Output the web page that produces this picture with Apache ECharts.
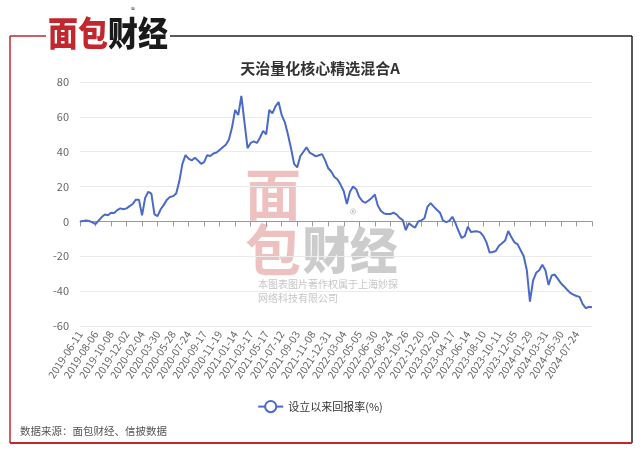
<!DOCTYPE html>
<html>
<head>
<meta charset="utf-8">
<script src="https://cdn.jsdelivr.net/npm/echarts@6/dist/echarts.min.js"></script>
<style>
html,body{margin:0;padding:0;background:#fff;}
#chart{width:640px;height:453px;}
</style>
</head>
<body>
<div id="chart"></div>
<script>
var chartTitle = '天治量化核心精选混合A';
var seriesName = '设立以来回报率(%)';
var sourceText = '数据来源：面包财经、信披数据';

var dates = [
'2019-06-11','2019-06-21','2019-07-02','2019-07-15','2019-07-25',
'2019-08-06','2019-08-16','2019-08-28','2019-09-09','2019-09-23',
'2019-10-08','2019-10-18','2019-10-29','2019-11-08','2019-11-20',
'2019-12-02','2019-12-12','2019-12-24','2020-01-06','2020-01-16',
'2020-02-04','2020-02-14','2020-02-26','2020-03-09','2020-03-19',
'2020-03-30','2020-04-10','2020-04-22','2020-05-07','2020-05-18',
'2020-05-28','2020-06-08','2020-06-18','2020-07-02','2020-07-14',
'2020-07-24','2020-08-04','2020-08-14','2020-08-26','2020-09-07',
'2020-09-17','2020-09-29','2020-10-19','2020-10-29','2020-11-09',
'2020-11-19','2020-12-01','2020-12-11','2020-12-23','2021-01-05',
'2021-01-14','2021-01-26','2021-02-05','2021-02-24','2021-03-05',
'2021-03-17','2021-03-29','2021-04-09','2021-04-21','2021-05-06',
'2021-05-17','2021-05-27','2021-06-07','2021-06-18','2021-06-30',
'2021-07-12','2021-07-22','2021-08-02','2021-08-12','2021-08-24',
'2021-09-03','2021-09-15','2021-09-27','2021-10-19','2021-10-28',
'2021-11-08','2021-11-18','2021-11-30','2021-12-10','2021-12-21',
'2021-12-31','2022-01-12','2022-01-24','2022-02-11','2022-02-22',
'2022-03-04','2022-03-16','2022-03-28','2022-04-08','2022-04-22',
'2022-05-05','2022-05-17','2022-05-27','2022-06-09','2022-06-20',
'2022-06-30','2022-07-12','2022-07-22','2022-08-03','2022-08-12',
'2022-08-24','2022-09-05','2022-09-16','2022-09-28','2022-10-14',
'2022-10-26','2022-11-07','2022-11-17','2022-11-29','2022-12-09',
'2022-12-20','2023-01-03','2023-01-13','2023-02-01','2023-02-10',
'2023-02-20','2023-03-02','2023-03-14','2023-03-24','2023-04-04',
'2023-04-17','2023-04-27','2023-05-11','2023-05-23','2023-06-02',
'2023-06-14','2023-06-27','2023-07-07','2023-07-19','2023-07-31',
'2023-08-10','2023-08-22','2023-09-01','2023-09-13','2023-09-25',
'2023-10-11','2023-10-23','2023-11-02','2023-11-14','2023-11-24',
'2023-12-05','2023-12-15','2023-12-27','2024-01-09','2024-01-19',
'2024-01-29','2024-02-08','2024-02-27','2024-03-08','2024-03-20',
'2024-03-31','2024-04-12','2024-04-24','2024-05-10','2024-05-21',
'2024-05-30','2024-06-11','2024-06-21','2024-07-03','2024-07-13',
'2024-07-24','2024-08-05','2024-08-15','2024-08-27','2024-09-06',
'2024-09-18'
];

var returns = [
0,0.3,0.5,0.2,-0.5,-1.5,0.5,2.5,4,3.5,
5,4.8,6.5,7.5,7,7.5,8.8,10,12.5,12.5,
3.5,13.5,17,16,4,3,7,9.5,12.5,14,
14.5,16,23,33,38,36,35,36.5,35,33,
34,38,37.5,39,39.5,41,42.5,44,47,54,
64,61,72,57,42,45,46,45,48,52,
50,64,62,66,68.5,61,57,50,42,33,
31,37.5,40,42.5,39.5,38.5,37.3,38,38.6,35,
30.5,28.5,25.5,24,21,17.3,10,17,20,18.5,
14,11.6,10.7,12,13.5,15.4,9,6,4.5,4.2,
4.2,5,4,2,0.8,-5,-1,-2.5,-3.5,0,
0.5,1.8,8.5,10.5,8.5,6.7,5,0.5,-0.4,0.3,
2.7,-1,-5.5,-9.5,-8.5,-3,-6,-5.8,-5.7,-6.3,
-8.4,-12,-17.8,-17.5,-17,-14,-12.5,-11,-5.5,-9,
-12,-13,-16.5,-20,-28,-46,-34,-29.5,-28,-24.8,
-28,-36.5,-31,-30.5,-33,-35.5,-37.3,-39.2,-41,-42,
-42.8,-43.3,-47.5,-49.8,-49,-49.3
];

var yMin = -60, yMax = 80, yStep = 20;
var labelEvery = 5;

var FONT = '"Noto Sans CJK SC","Noto Sans",sans-serif';
var RED = '#c1272d';

var chart = echarts.init(document.getElementById('chart'), null, {renderer:'canvas'});
var lastIdx = dates.length - 1;

var option = {
  backgroundColor: '#ffffff',
  textStyle: {fontFamily: FONT},
  title: {
    text: chartTitle,
    left: 'center',
    top: 56,
    textStyle: {fontSize: 15, fontWeight: 'bold', color: '#333', fontFamily: FONT}
  },
  legend: {
    data: [seriesName],
    left: 'center',
    top: 395,
    itemWidth: 25,
    itemHeight: 14,
    itemGap: 10,
    textStyle: {fontSize: 11, color: '#333', fontFamily: FONT}
  },
  grid: {left: 80, right: 48, top: 82, bottom: 127, containLabel: false},
  xAxis: [{
    type: 'category',
    data: dates,
    boundaryGap: false,
    position: 'bottom',
    axisLine: {show: false, onZero: false},
    axisTick: {show: false},
    splitLine: {show: false},
    axisLabel: {
      rotate: 57,
      fontSize: 10.5,
      color: '#666',
      margin: 6,
      fontFamily: FONT,
      interval: function (i) { return i % labelEvery === 0 && i < lastIdx; }
    }
  }, {
    type: 'category',
    data: dates,
    boundaryGap: false,
    position: 'top',
    axisLine: {show: true, onZero: true, lineStyle: {color: '#999', width: 1}},
    axisTick: {show: true, inside: true, length: 5, lineStyle: {color: '#999'},
      interval: function (i) { return i % labelEvery === 0; }},
    axisLabel: {show: false},
    splitLine: {show: false}
  }],
  yAxis: {
    type: 'value',
    min: yMin,
    max: yMax,
    interval: yStep,
    axisLine: {show: false},
    axisTick: {show: false},
    axisLabel: {fontSize: 11, color: '#666', margin: 11, fontFamily: FONT},
    splitLine: {lineStyle: {color: '#ebebeb', width: 1}}
  },
  series: [{
    name: seriesName,
    type: 'line',
    xAxisIndex: 0,
    data: returns,
    symbol: 'emptyCircle',
    symbolSize: 8,
    showSymbol: false,
    smooth: false,
    z: 5,
    itemStyle: {color: '#4a6ac8'},
    lineStyle: {color: '#4a6ac8', width: 2}
  }],
  graphic: [
    // frame
    {type:'line', shape:{x1:10, y1:36, x2:10, y2:443}, style:{stroke:RED, lineWidth:1.5}, silent:true},
    {type:'line', shape:{x1:10, y1:36, x2:46, y2:36}, style:{stroke:RED, lineWidth:1.5}, silent:true},
    {type:'line', shape:{x1:170, y1:36, x2:632, y2:36}, style:{stroke:'#222', lineWidth:1.5}, silent:true},
    {type:'line', shape:{x1:632, y1:36, x2:632, y2:443}, style:{stroke:'#222', lineWidth:1.5}, silent:true},
    {type:'line', shape:{x1:10, y1:443, x2:632, y2:443}, style:{stroke:RED, lineWidth:2}, silent:true},
    // logo
    {type:'text', x:48, y:33, scaleX:0.88, silent:true,
      style:{text:'面包', fill:RED, font:'900 34px ' + FONT, textVerticalAlign:'middle', verticalAlign:'middle'}},
    {type:'text', x:108, y:33, scaleX:0.88, silent:true,
      style:{text:'财经', fill:'#1a1a1a', font:'900 34px ' + FONT, textVerticalAlign:'middle', verticalAlign:'middle'}},
    {type:'text', x:131, y:6, silent:true,
      style:{text:'®', fill:'#333', font:'8px ' + FONT}},
    // watermark
    {type:'text', x:273, y:194, z:-1, silent:true,
      style:{text:'面', fill:'rgba(200,50,50,0.30)', font:'bold 56px ' + FONT, align:'center', verticalAlign:'middle'}},
    {type:'text', x:273, y:250, z:-1, silent:true,
      style:{text:'包', fill:'rgba(200,50,50,0.30)', font:'bold 56px ' + FONT, align:'center', verticalAlign:'middle'}},
    {type:'text', x:350, y:250, z:-1, silent:true, scaleX:0.95,
      style:{text:'财经', fill:'rgba(110,110,110,0.35)', font:'900 50px ' + FONT, align:'center', verticalAlign:'middle'}},
    {type:'text', x:353, y:214, z:-1, silent:true,
      style:{text:'®', fill:'rgba(120,120,120,0.5)', font:'13px ' + FONT, align:'center', verticalAlign:'middle'}},
    {type:'text', x:258, y:284, z:-1, silent:true,
      style:{text:'本图表图片著作权属于上海妙探', fill:'#c6c6c6', font:'10px ' + FONT, verticalAlign:'middle'}},
    {type:'text', x:258, y:298, z:-1, silent:true,
      style:{text:'网络科技有限公司', fill:'#c6c6c6', font:'10px ' + FONT, verticalAlign:'middle'}},
    // source
    {type:'text', x:20, y:431, silent:true,
      style:{text:sourceText, fill:'#555', font:'10.5px ' + FONT, verticalAlign:'middle'}}
  ]
};
chart.setOption(option);
</script>
</body>
</html>
